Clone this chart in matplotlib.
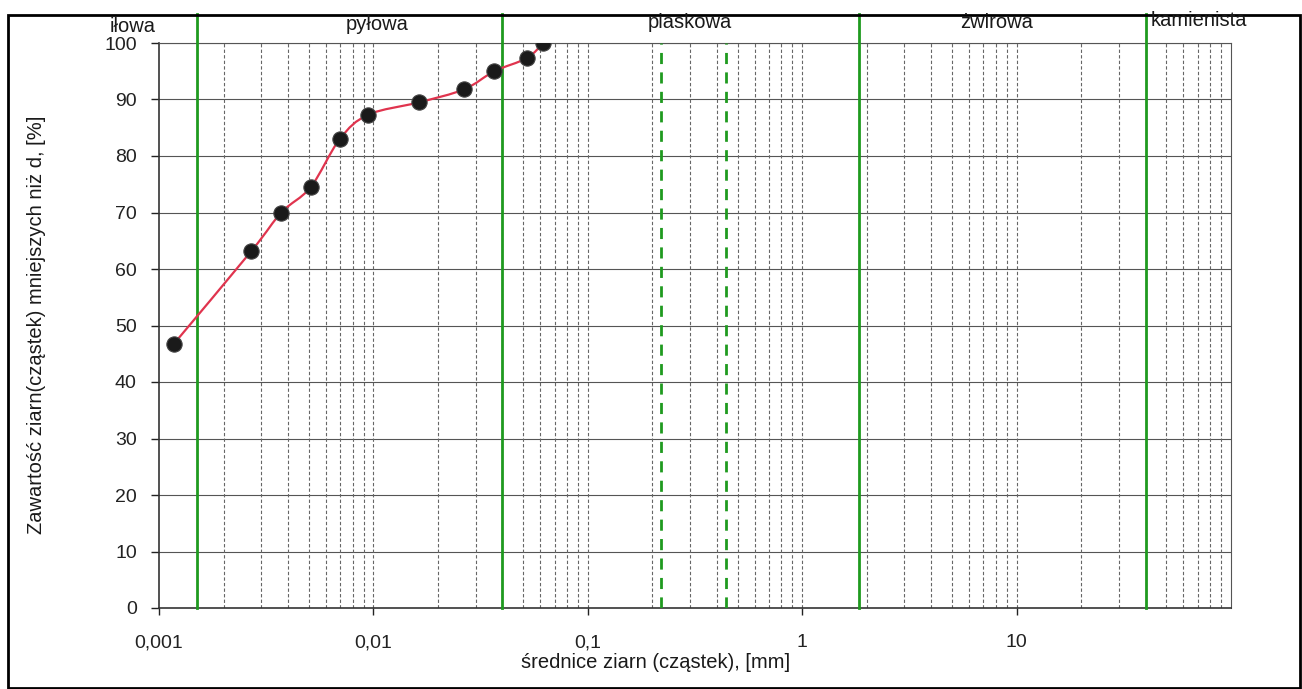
import numpy as np
import matplotlib.pyplot as plt
from matplotlib.path import Path
from matplotlib.patches import PathPatch, Rectangle

plt.rcParams['font.family'] = ['Liberation Sans', 'DejaVu Sans']

# grain size distribution
d_mm = [0.00117, 0.00270, 0.00372, 0.00510, 0.00697, 0.00945,
        0.01634, 0.0265, 0.0366, 0.0518, 0.0621]
passing = [46.7, 63.2, 70.0, 74.5, 83.0, 87.3, 89.5, 91.8, 95.0, 97.3, 100.0]

# fraction boundaries as drawn on the sheet
bounds_solid = [0.0015, 0.04, 1.85, 40]
bounds_dashed = [0.22, 0.44]
fractions = ['iłowa', 'pyłowa', 'piaskowa', 'żwirowa', 'kamienista']

xticks = [0.001, 0.01, 0.1, 1, 10]
xtick_labels = ['0,001', '0,01', '0,1', '1', '10']
yticks = list(range(0, 101, 10))

W, H = 1302, 689
fig = plt.figure(figsize=(W / 100, H / 100), dpi=100)
ax = fig.add_axes([159 / W, 1 - 608 / H, (1231 - 159) / W, (608 - 43) / H])

ax.set_xscale('log')
ax.set_xlim(0.001, 100)
ax.set_ylim(0, 100)

# grid: solid horizontal, dashed vertical (major + minor decades)
for y in yticks[1:]:
    ax.axhline(y, color='#555555', lw=0.8, zorder=1)
for dec in range(-3, 2):
    for m in range(1, 10):
        x = m * 10.0 ** dec
        if 0.001 < x < 100:
            ax.axvline(x, color='#666666', lw=0.8, ls=(0, (3, 2)), zorder=1)

ax.set_xticks(xticks)
ax.set_xticklabels(xtick_labels)
ax.set_xticks([], minor=True)
ax.set_yticks(yticks)
ax.tick_params(axis='x', labelsize=14, length=5, pad=14, width=1, colors='#222222')
ax.tick_params(axis='y', labelsize=14, length=6, pad=10, width=1, colors='#222222')

for s in ['left', 'bottom']:
    ax.spines[s].set_color('#333333')
    ax.spines[s].set_linewidth(1.2)
for s in ['top', 'right']:
    ax.spines[s].set_color('#555555')
    ax.spines[s].set_linewidth(0.8)

# boundary lines
top_ext = (608 - 14) / (608 - 43)
for b in bounds_solid:
    ax.axvline(b, ymin=0, ymax=top_ext, color='#1f9a1f', lw=2, clip_on=False, zorder=3)
for b in bounds_dashed:
    ax.axvline(b, color='#1f9a1f', lw=2, ls=(0, (4, 3)), zorder=3)

# smoothed line through the points (Excel-like), control points in log-x space
lx = np.log10(d_mm)
py = np.array(passing)
verts = [(d_mm[0], passing[0])]
codes = [Path.MOVETO]
n = len(lx)
for i in range(n - 1):
    p0 = np.array([lx[max(i - 1, 0)], py[max(i - 1, 0)]])
    p1 = np.array([lx[i], py[i]])
    p2 = np.array([lx[i + 1], py[i + 1]])
    p3 = np.array([lx[min(i + 2, n - 1)], py[min(i + 2, n - 1)]])
    c1 = p1 + (p2 - p0) / 6
    c2 = p2 - (p3 - p1) / 6
    for c in (c1, c2, p2):
        verts.append((10 ** c[0], c[1]))
        codes.append(Path.CURVE4)
ax.add_patch(PathPatch(Path(verts, codes), fc='none', ec='#e0344e', lw=1.6, zorder=4))
ax.plot(d_mm, passing, 'o', ms=11, color='#1a1a1a', mec='#444444', mew=0.8, zorder=5)

# fraction names above the plot
label_pos = [(133, 27, 'center'), (377, 25, 'center'), (690, 23, 'center'),
             (997, 22, 'center'), (1151, 20, 'left')]
for (px, py_, ha), name in zip(label_pos, fractions):
    fig.text(px / W, 1 - py_ / H, name, ha=ha, va='center', fontsize=14.5, color='#1a1a1a')

fig.text(656 / W, 1 - 662 / H, 'średnice ziarn (cząstek), [mm]', ha='center', va='center',
         fontsize=14.5, color='#1a1a1a')
fig.text(37 / W, 1 - 325 / H, 'Zawartość ziarn(cząstek) mniejszych niż d, [%]', ha='center',
         va='center', rotation=90, fontsize=14.5, color='#1a1a1a')

# outer frame of the sheet
fig.patches.append(Rectangle((8 / W, 1 - 688 / H), (1300 - 8) / W, (688 - 15) / H,
                             transform=fig.transFigure, fill=False, ec='black', lw=2))

fig.savefig('out.png', dpi=100)
